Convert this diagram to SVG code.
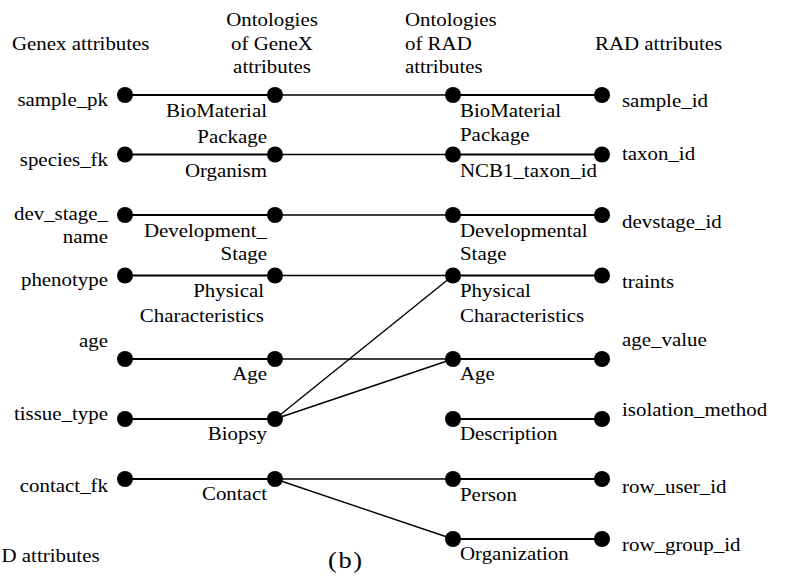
<svg xmlns="http://www.w3.org/2000/svg" width="790" height="578" viewBox="0 0 790 578">
  <style>
    text { font-family: "Liberation Serif", "Times New Roman", Times, "DejaVu Serif", serif; font-size: 19px; fill: #000; }
    .end { text-anchor: end; }
    .mid { text-anchor: middle; }
    .seg { stroke: #000; stroke-width: 2.2; fill: none; }
    .link { stroke: #000; stroke-width: 1.4; fill: none; }
    .dot { fill: #000; }
    .big { font-size: 24px; letter-spacing: 1.5px; }
  </style>

  <!-- connectors -->
  <g id="connectors">
    <!-- attribute to ontology segments (left side) -->
    <line class="seg" x1="125" y1="95" x2="275" y2="95"/>
    <line class="seg" x1="125" y1="154.5" x2="275" y2="154.5"/>
    <line class="seg" x1="125" y1="215" x2="275" y2="215"/>
    <line class="seg" x1="125" y1="275.5" x2="275" y2="275.5"/>
    <line class="seg" x1="125" y1="359" x2="275" y2="359"/>
    <line class="seg" x1="125" y1="419" x2="275" y2="419"/>
    <line class="seg" x1="125" y1="479" x2="275" y2="479"/>
    <!-- ontology to ontology links -->
    <line class="link" x1="275" y1="95" x2="453" y2="95"/>
    <line class="link" x1="275" y1="154.5" x2="453" y2="154.5"/>
    <line class="link" x1="275" y1="215" x2="453" y2="215"/>
    <line class="link" x1="275" y1="275.5" x2="453" y2="275.5"/>
    <line class="link" x1="275" y1="359" x2="453" y2="359"/>
    <line class="link" x1="275" y1="419" x2="453" y2="275.5"/>
    <line class="link" x1="275" y1="419" x2="453" y2="359"/>
    <line class="link" x1="275" y1="479" x2="453" y2="479"/>
    <line class="link" x1="275" y1="479" x2="453" y2="539"/>
    <!-- ontology to attribute segments (right side) -->
    <line class="seg" x1="453" y1="95" x2="602" y2="95"/>
    <line class="seg" x1="453" y1="154.5" x2="602" y2="154.5"/>
    <line class="seg" x1="453" y1="215" x2="602" y2="215"/>
    <line class="seg" x1="453" y1="275.5" x2="602" y2="275.5"/>
    <line class="seg" x1="453" y1="359" x2="602" y2="359"/>
    <line class="seg" x1="453" y1="419" x2="602" y2="419"/>
    <line class="seg" x1="453" y1="479" x2="602" y2="479"/>
    <line class="seg" x1="453" y1="539" x2="602" y2="539"/>
  </g>

  <!-- GeneX attribute nodes -->
  <g id="genex-nodes">
    <circle class="dot" cx="125" cy="95" r="8"/>
    <circle class="dot" cx="125" cy="154.5" r="8"/>
    <circle class="dot" cx="125" cy="215" r="8"/>
    <circle class="dot" cx="125" cy="275.5" r="8"/>
    <circle class="dot" cx="125" cy="359" r="8"/>
    <circle class="dot" cx="125" cy="419" r="8"/>
    <circle class="dot" cx="125" cy="479" r="8"/>
  </g>

  <!-- GeneX ontology nodes -->
  <g id="genex-ontology-nodes">
    <circle class="dot" cx="275" cy="95" r="8"/>
    <circle class="dot" cx="275" cy="154.5" r="8"/>
    <circle class="dot" cx="275" cy="215" r="8"/>
    <circle class="dot" cx="275" cy="275.5" r="8"/>
    <circle class="dot" cx="275" cy="359" r="8"/>
    <circle class="dot" cx="275" cy="419" r="8"/>
    <circle class="dot" cx="275" cy="479" r="8"/>
  </g>

  <!-- RAD ontology nodes -->
  <g id="rad-ontology-nodes">
    <circle class="dot" cx="453" cy="95" r="8"/>
    <circle class="dot" cx="453" cy="154.5" r="8"/>
    <circle class="dot" cx="453" cy="215" r="8"/>
    <circle class="dot" cx="453" cy="275.5" r="8"/>
    <circle class="dot" cx="453" cy="359" r="8"/>
    <circle class="dot" cx="453" cy="419" r="8"/>
    <circle class="dot" cx="453" cy="479" r="8"/>
    <circle class="dot" cx="453" cy="539" r="8"/>
  </g>

  <!-- RAD attribute nodes -->
  <g id="rad-nodes">
    <circle class="dot" cx="602" cy="95" r="8"/>
    <circle class="dot" cx="602" cy="154.5" r="8"/>
    <circle class="dot" cx="602" cy="215" r="8"/>
    <circle class="dot" cx="602" cy="275.5" r="8"/>
    <circle class="dot" cx="602" cy="359" r="8"/>
    <circle class="dot" cx="602" cy="419" r="8"/>
    <circle class="dot" cx="602" cy="479" r="8"/>
    <circle class="dot" cx="602" cy="539" r="8"/>
  </g>

  <!-- labels: the serif face is set slightly wide -->
  <g id="labels" transform="scale(1.1,1)" font-family="Liberation Serif, Times New Roman, serif">
    <!-- column headings -->
    <text x="10.91" y="50">Genex attributes</text>
    <text class="mid" x="247.27" y="26">Ontologies</text>
    <text class="mid" x="247.27" y="50">of GeneX</text>
    <text class="mid" x="247.27" y="73">attributes</text>
    <text x="368.18" y="26">Ontologies</text>
    <text x="368.18" y="50">of RAD</text>
    <text x="368.18" y="73">attributes</text>
    <text x="540.91" y="50">RAD attributes</text>

    <!-- GeneX attributes -->
    <text class="end" x="98.18" y="106">sample_pk</text>
    <text class="end" x="98.18" y="166">species_fk</text>
    <text class="end" x="98.18" y="220">dev_stage_</text>
    <text class="end" x="98.18" y="243">name</text>
    <text class="end" x="98.18" y="286">phenotype</text>
    <text class="end" x="98.18" y="347">age</text>
    <text class="end" x="98.18" y="420">tissue_type</text>
    <text class="end" x="98.18" y="492">contact_fk</text>

    <!-- GeneX ontology terms -->
    <text class="end" x="242.73" y="117">BioMaterial</text>
    <text class="end" x="242.73" y="143">Package</text>
    <text class="end" x="242.73" y="177">Organism</text>
    <text class="end" x="242.73" y="237">Development_</text>
    <text class="end" x="242.73" y="260">Stage</text>
    <text class="end" x="240" y="297">Physical</text>
    <text class="end" x="240" y="322">Characteristics</text>
    <text class="end" x="242.73" y="380">Age</text>
    <text class="end" x="242.73" y="440">Biopsy</text>
    <text class="end" x="242.73" y="500">Contact</text>

    <!-- RAD ontology terms -->
    <text x="418.18" y="117">BioMaterial</text>
    <text x="418.18" y="141">Package</text>
    <text x="418.18" y="177">NCB1_taxon_id</text>
    <text x="418.18" y="237">Developmental</text>
    <text x="418.18" y="260">Stage</text>
    <text x="418.18" y="297">Physical</text>
    <text x="418.18" y="322">Characteristics</text>
    <text x="418.18" y="380">Age</text>
    <text x="418.18" y="440">Description</text>
    <text x="418.18" y="501">Person</text>
    <text x="418.18" y="560">Organization</text>

    <!-- RAD attributes -->
    <text x="565.45" y="107.5">sample_id</text>
    <text x="565.45" y="160">taxon_id</text>
    <text x="565.45" y="228">devstage_id</text>
    <text x="565.45" y="288">traints</text>
    <text x="565.45" y="346">age_value</text>
    <text x="565.45" y="416">isolation_method</text>
    <text x="565.45" y="493">row_user_id</text>
    <text x="565.45" y="551">row_group_id</text>

    <!-- footer -->
    <text x="1.36" y="562">D attributes</text>
    <text class="big" x="298.18" y="568">(b)</text>
  </g>
</svg>
